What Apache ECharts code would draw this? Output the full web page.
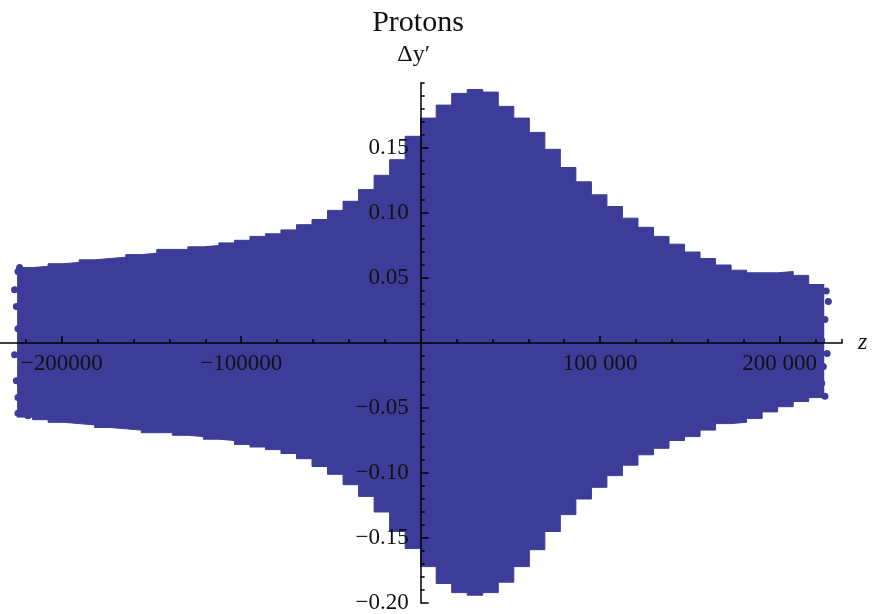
<!DOCTYPE html>
<html>
<head>
<meta charset="utf-8">
<title>Protons</title>
<script src="https://cdn.jsdelivr.net/npm/echarts@6.0.0/dist/echarts.min.js"></script>
<style>
  html, body { margin: 0; padding: 0; background: #fff; }
  #chart { width: 872px; height: 614px; }
</style>
</head>
<body>
<div id="chart"></div>
<script>
// bin edges in z (one more than the bins)
const zEdges = [
  -224900, -216250, -207600, -198950, -190300, -181650, -173000, -164350, -155700,
  -147050, -138400, -129750, -121100, -112450, -103800, -95150, -86500, -77850,
  -69200, -60550, -51900, -43250, -34600, -25950, -17300, -8650, 0,
  8650, 17300, 25950, 34600, 43250, 51900, 60550, 69200, 77850,
  86500, 95150, 103800, 112450, 121100, 129750, 138400, 147050, 155700,
  164350, 173000, 181650, 190300, 198950, 207600, 216250, 224900
]
// top and bottom of the particle cloud in each bin (dy')
const upperEdge = [
  0.058, 0.059, 0.061, 0.062, 0.064, 0.065, 0.066, 0.068, 0.069, 0.072, 0.072, 0.074, 0.075,
  0.077, 0.079, 0.082, 0.084, 0.087, 0.091, 0.095, 0.102, 0.109, 0.118, 0.129, 0.141, 0.159,
  0.173, 0.183, 0.192, 0.195, 0.193, 0.182, 0.173, 0.162, 0.149, 0.135, 0.124, 0.114, 0.105,
  0.096, 0.089, 0.082, 0.076, 0.070, 0.065, 0.060, 0.056, 0.054, 0.054, 0.055, 0.052, 0.045
]
const lowerEdge = [
  -0.057, -0.059, -0.061, -0.062, -0.063, -0.065, -0.066, -0.067, -0.069, -0.069, -0.071, -0.072, -0.074,
  -0.075, -0.078, -0.080, -0.082, -0.085, -0.089, -0.095, -0.101, -0.109, -0.118, -0.130, -0.145, -0.158,
  -0.172, -0.185, -0.192, -0.194, -0.192, -0.184, -0.172, -0.159, -0.145, -0.132, -0.120, -0.111, -0.102,
  -0.094, -0.086, -0.081, -0.075, -0.072, -0.067, -0.062, -0.061, -0.058, -0.053, -0.049, -0.045, -0.042
]
// loose particles at both ends
const leftDots = [
  [-223500, 0.058], [-224400, 0.055], [-226300, 0.041], [-225300, 0.028], [-224400, 0.011],
  [-226300, -0.009], [-225300, -0.029], [-224400, -0.042], [-224400, -0.054], [-218800, -0.056]
]
const rightDots = [
  [226000, 0.040], [227200, 0.032], [225300, 0.018], [223500, 0.002], [226500, -0.008],
  [224400, -0.018], [223500, -0.031], [225300, -0.041]
]

const xMajorTicks = [-200000, -100000, 100000, 200000]
const yMajorTicks = [-0.2, -0.15, -0.1, -0.05, 0.05, 0.1, 0.15]

const fill = '#3d3d99'
const serif = '"Liberation Serif", "DejaVu Serif", serif'

// axes cross at the origin: offsets pull them in from the grid edges
const xAxisOffset = -260
const yAxisOffset = -430.66

function stepData (edge) {
  let out = edge.map((v, i) => [zEdges[i], v])
  out.push([zEdges[zEdges.length - 1], edge[edge.length - 1]])
  return out
}

let chart = echarts.init(document.getElementById('chart'), null, { renderer: 'canvas' })

const option = {
  animation: false,
  backgroundColor: '#fff',
  grid: {
    left: -10,
    right: 30,
    top: 83,
    bottom: 11,
    containLabel: false,
    outerBoundsMode: 'none'
  },
  graphic: [
    {
      type: 'text',
      x: 418,
      y: 23,
      style: {
        text: 'Protons',
        font: '30px ' + serif,
        fill: '#111',
        textAlign: 'center',
        textVerticalAlign: 'middle'
      }
    }
  ],
  xAxis: [
    {
      // minor ticks every 20000, labels only on the 100000s
      type: 'value',
      position: 'bottom',
      offset: xAxisOffset,
      min: -240000,
      max: 234800,
      interval: 20000,
      z: 10,
      axisLine: { onZero: false, lineStyle: { color: '#000', width: 1.5 } },
      axisTick: { inside: true, length: 4, lineStyle: { color: '#000', width: 1.5 } },
      axisLabel: {
        margin: 9,
        fontFamily: serif,
        fontSize: 23,
        color: '#111',
        formatter: function (v) {
          if (v === 0 || Math.abs(v) % 100000 !== 0) return ''
          if (v < 0) return '\u2212' + Math.abs(v)
          return String(v).replace(/(\d{3})$/, ' $1')
        }
      },
      splitLine: { show: false },
      name: 'z',
      nameLocation: 'end',
      nameGap: 16,
      nameTextStyle: { fontFamily: serif, fontStyle: 'italic', fontSize: 24, color: '#111' }
    },
    {
      type: 'value',
      position: 'bottom',
      offset: xAxisOffset,
      min: -240000,
      max: 234800,
      z: 10,
      axisLine: { show: false, onZero: false },
      axisTick: { inside: true, length: 7, customValues: xMajorTicks, lineStyle: { color: '#000', width: 1.5 } },
      axisLabel: { show: false },
      splitLine: { show: false }
    }
  ],
  yAxis: [
    {
      type: 'value',
      position: 'left',
      offset: yAxisOffset,
      min: -0.2,
      max: 0.2,
      interval: 0.01,
      z: 10,
      axisLine: { onZero: false, lineStyle: { color: '#000', width: 1.5 } },
      axisTick: { inside: true, length: 4, lineStyle: { color: '#000', width: 1.5 } },
      axisLabel: {
        margin: 12,
        fontFamily: serif,
        fontSize: 23,
        color: '#111',
        formatter: function (v) {
          let c = Math.round(v * 100)
          if (c === 0 || c === 20 || c % 5 !== 0) return ''
          return (c < 0 ? '\u2212' : '') + (Math.abs(c) / 100).toFixed(2)
        }
      },
      splitLine: { show: false },
      name: '\u0394y\u2032',
      nameLocation: 'end',
      nameGap: 16,
      nameTextStyle: { fontFamily: serif, fontSize: 24, color: '#111', padding: [0, 14, 0, 0] }
    },
    {
      type: 'value',
      position: 'left',
      offset: yAxisOffset,
      min: -0.2,
      max: 0.2,
      z: 10,
      axisLine: { show: false, onZero: false },
      axisTick: { inside: true, length: 8, customValues: yMajorTicks, lineStyle: { color: '#000', width: 1.5 } },
      axisLabel: { show: false },
      splitLine: { show: false }
    }
  ],
  series: [
    {
      name: 'upper',
      type: 'line',
      step: 'end',
      symbol: 'none',
      data: stepData(upperEdge),
      lineStyle: { color: fill, width: 1 },
      areaStyle: { color: fill, opacity: 1 }
    },
    {
      name: 'lower',
      type: 'line',
      step: 'end',
      symbol: 'none',
      data: stepData(lowerEdge),
      lineStyle: { color: fill, width: 1 },
      areaStyle: { color: fill, opacity: 1 }
    },
    {
      name: 'ends',
      type: 'scatter',
      symbolSize: 7,
      data: leftDots.concat(rightDots),
      itemStyle: { color: fill, opacity: 1 }
    }
  ]
}

chart.setOption(option, true)
</script>
</body>
</html>
